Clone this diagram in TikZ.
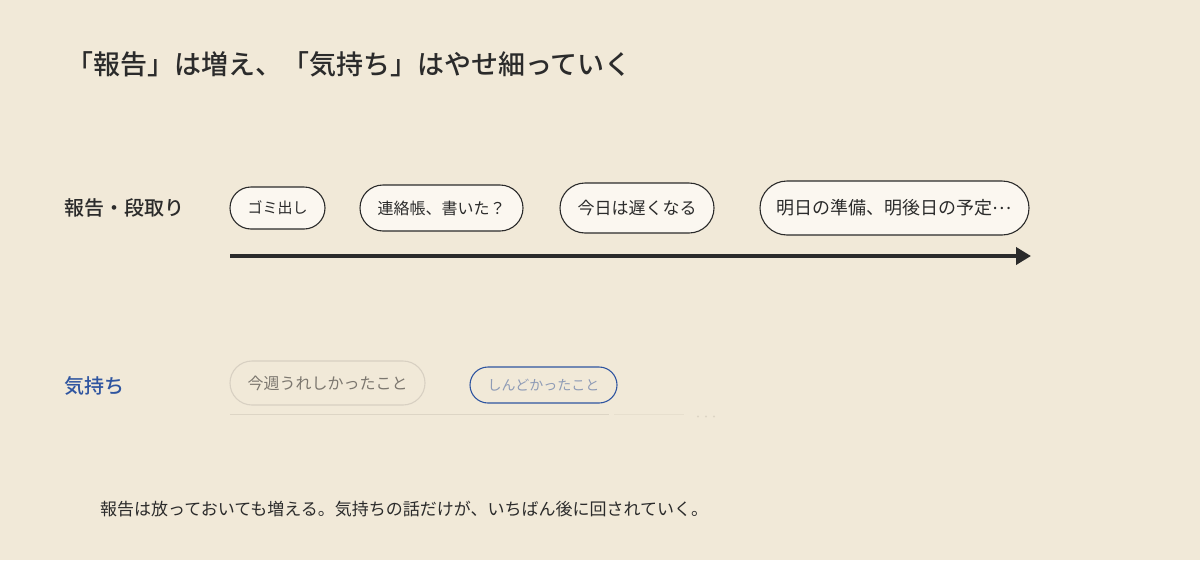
\documentclass[tikz,border=0pt]{standalone}
\usepackage{fontspec}
\setmainfont{Noto Sans CJK JP}[BoldFont={Noto Sans CJK JP Medium}]
\usetikzlibrary{arrows.meta}
\definecolor{bg}{HTML}{F1E9D8}
\definecolor{ink}{HTML}{2B2B2B}
\definecolor{pillfill}{HTML}{FBF7F0}
\definecolor{feelblue}{HTML}{2F55A0}
\definecolor{fadedborder}{HTML}{D8D0C2}
\definecolor{fadedtext}{HTML}{7C776F}
\definecolor{bluetext}{HTML}{8E9BB6}
\definecolor{fadeline}{HTML}{DDD5C5}
\definecolor{fadeline2}{HTML}{E7DFCE}
\tikzset{
  pill/.style n args={3}{draw=ink, line width=1.1pt, fill=pillfill, text=ink,
    minimum width=#1, minimum height=#2, rounded corners=#3, inner sep=0pt, font=\fontsize{15}{15}\selectfont},
  rowlabel/.style={anchor=west, inner sep=0pt, font=\bfseries\fontsize{20}{20}\selectfont},
}
\begin{document}
\begin{tikzpicture}[x=1pt,y=-1pt]
\fill[bg] (0,0) rectangle (1200,560);
\useasboundingbox (0,0) rectangle (1200,560);

\node[anchor=west, inner sep=0pt, text=ink, font=\bfseries\fontsize{27}{27}\selectfont] (title) at (66,64) {「報告」は増え、「気持ち」はやせ細っていく};

\node[rowlabel, text=ink] (lab1) at (64,208) {報告・段取り};
\node[rowlabel, text=feelblue] (lab2) at (64,386) {気持ち};

\node[pill={95pt}{42pt}{21pt}, font=\fontsize{15}{15}\selectfont] (p1) at (277.5,208) {ゴミ出し};
\node[pill={163pt}{46pt}{23pt}, font=\fontsize{16}{16}\selectfont] (p2) at (441.5,208) {連絡帳、書いた？};
\node[pill={154pt}{50pt}{25pt}, font=\fontsize{17}{17}\selectfont] (p3) at (637,208) {今日は遅くなる};
\node[pill={269pt}{54pt}{27pt}, font=\fontsize{18}{18}\selectfont] (p4) at (894.5,208) {明日の準備、明後日の予定\raisebox{0.3em}{…}};

\coordinate (aS) at (230,256);
\coordinate (aE) at (1031,256);
\draw[ink, line width=4pt, -{Triangle[length=15pt,width=17pt]}] (aS) -- (aE);

\node[pill={195pt}{44pt}{22pt}, draw=fadedborder, fill=bg, text=fadedtext, font=\fontsize{16}{16}\selectfont] (q1) at (327.5,383) {今週うれしかったこと};
\node[pill={147pt}{36pt}{18pt}, draw=feelblue, fill=bg, text=bluetext, font=\fontsize{14}{14}\selectfont] (q2) at (543.5,385) {しんどかったこと};

\coordinate (l1s) at (230,414.5);
\coordinate (l1e) at (609,414.5);
\coordinate (l2s) at (614,414.5);
\coordinate (l2e) at (684,414.5);
\draw[fadeline, line width=1.5pt] (l1s) -- (l1e);
\draw[fadeline2, line width=1.2pt] (l2s) -- (l2e);
\foreach \x in {698,706,714} \fill[fadeline] (\x,416.5) circle (1.2pt);

\node[anchor=west, inner sep=0pt, text=ink, font=\fontsize{17}{17}\selectfont] (note) at (100,509) {報告は放っておいても増える。気持ちの話だけが、いちばん後に回されていく。};
\end{tikzpicture}
\end{document}
